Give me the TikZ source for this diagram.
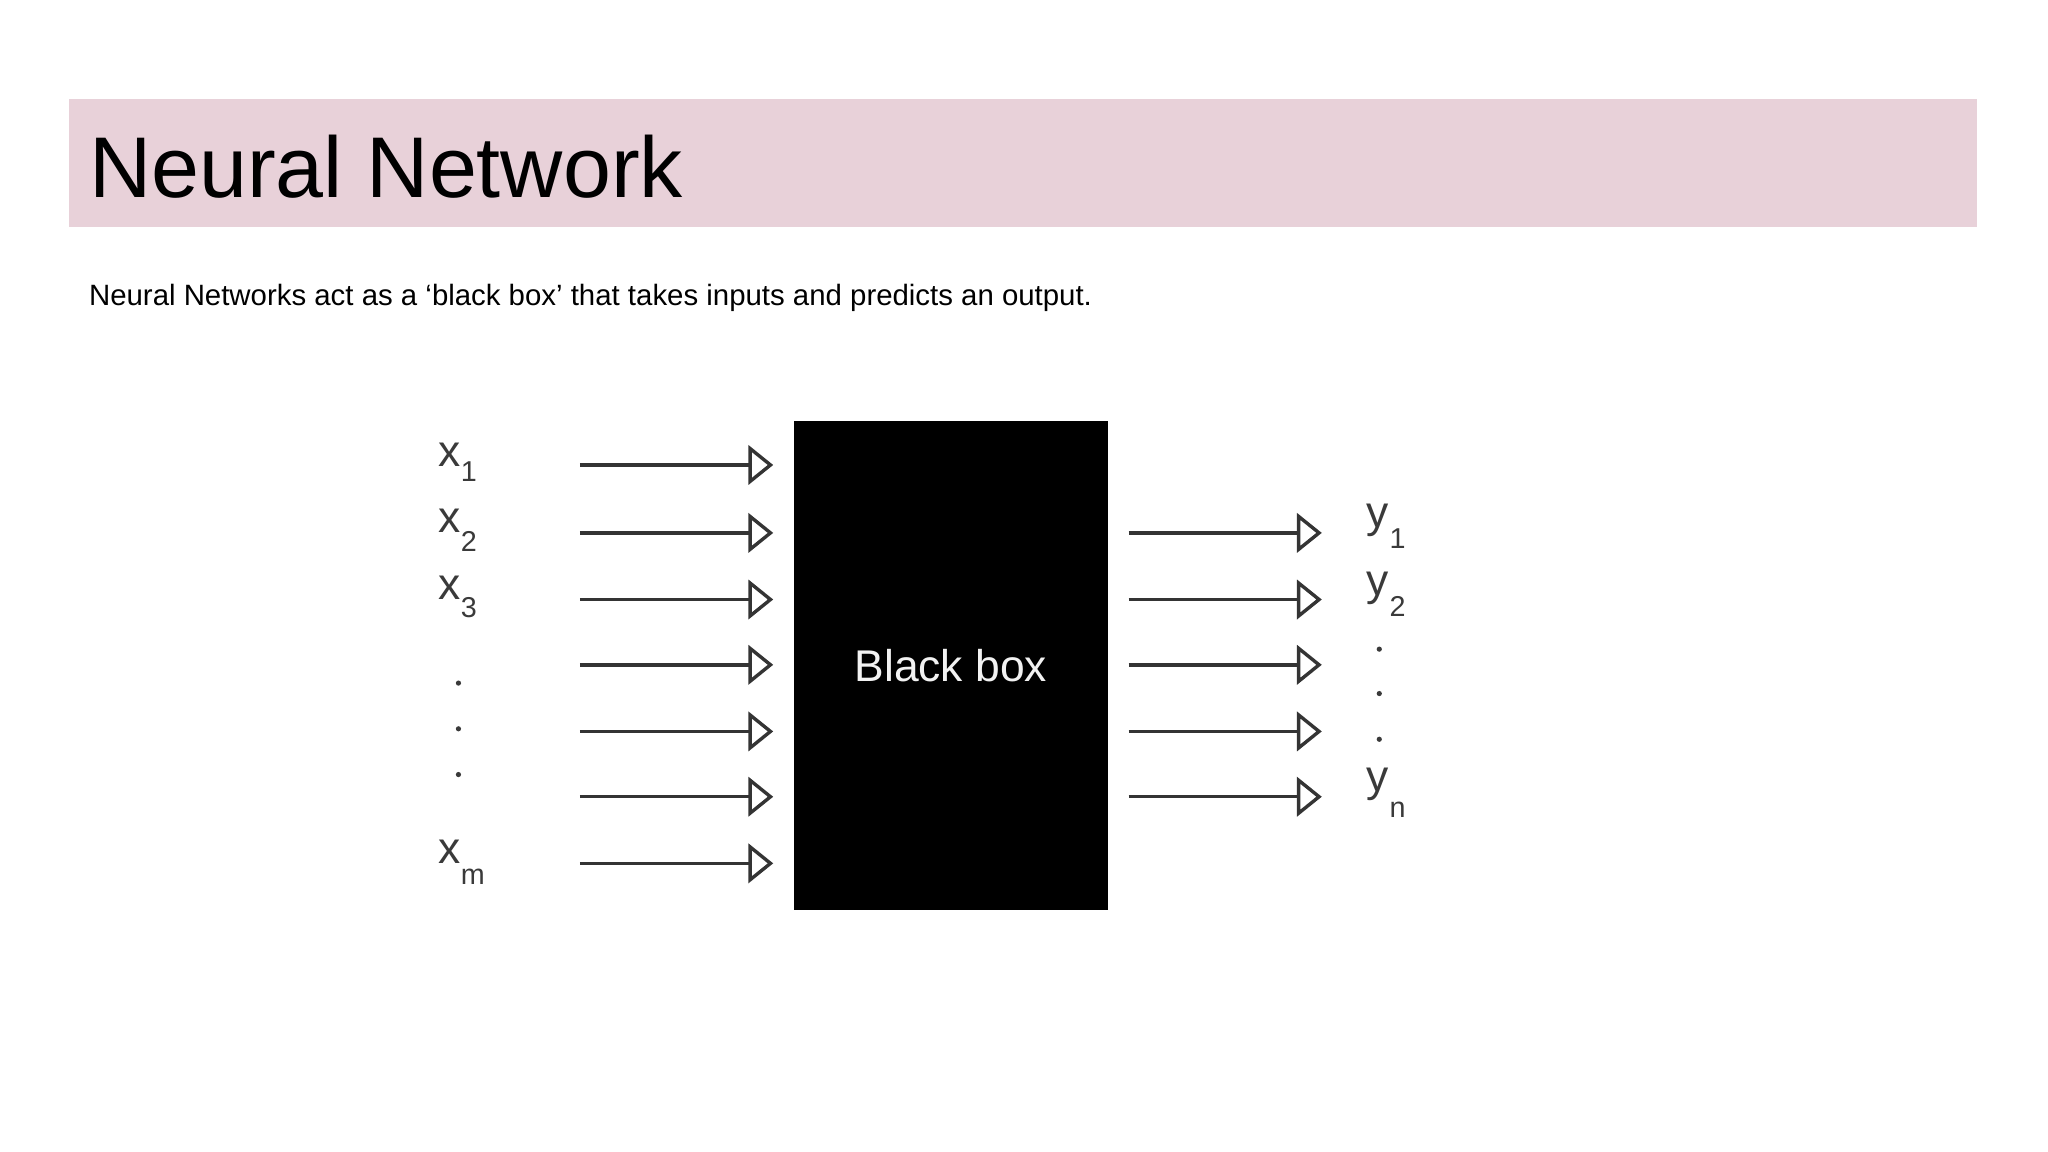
\documentclass[tikz,border=0pt]{standalone}
\usepackage{fontspec}
\setmainfont{Liberation Sans}
\usetikzlibrary{arrows.meta}
\definecolor{band}{HTML}{E8D1D9}
\definecolor{lab}{HTML}{3A3A3A}
\tikzset{
  arr/.style={line width=2.6pt, draw=lab!90!black, -{Triangle[open, length=19pt, width=30pt, line width=2.6pt]}},
  lbl/.style={text=lab, font=\fontsize{34}{34}\selectfont, inner sep=0pt, anchor=base},
  sub/.style={text=lab, font=\fontsize{22}{22}\selectfont, inner sep=0pt, anchor=base west},
  dot/.style={fill=lab, circle, inner sep=0pt, minimum size=4pt}
}
\begin{document}
\begin{tikzpicture}[x=1pt,y=-1pt]
\useasboundingbox (0,0) rectangle (1568,882);
\fill[band] (53,76) rectangle (1514,174);
\node[anchor=base west, inner sep=0pt, font=\fontsize{66}{66}\selectfont] (title) at (68,151) {Neural Network};
\node[anchor=base west, inner sep=0pt, font=\fontsize{22.5}{22.5}\selectfont] (sub) at (68,234) {Neural Networks act as a ‘black box’ that takes inputs and predicts an output.};
\node[fill=black, minimum width=240pt, minimum height=375pt, inner sep=0pt, text=white!90!gray, font=\fontsize{34}{34}\selectfont] (bb) at (728,509.5) {Black box};
\foreach \i/\y in {1/356,2/408,3/459,4/509,5/560,6/610,7/661}{
  \coordinate (is\i) at (444,\y); \coordinate (ie\i) at (592,\y);
  \draw[arr] (is\i) -- (ie\i);
}
\foreach \i/\y in {1/408,2/459,3/509,4/560,5/610}{
  \coordinate (os\i) at (864,\y); \coordinate (oe\i) at (1012,\y);
  \draw[arr] (os\i) -- (oe\i);
}
\node[lbl] (x1) at (344,357) {x}; \node[sub] (x1s) at (x1.base east) [yshift=-12pt] {1};
\node[lbl] (x2) at (344,408) {x}; \node[sub] (x2s) at (x2.base east) [yshift=-14pt] {2};
\node[lbl] (x3) at (344,459) {x}; \node[sub] (x3s) at (x3.base east) [yshift=-14pt] {3};
\node[dot] (d1) at (351,523) {}; \node[dot] (d2) at (351,558) {}; \node[dot] (d3) at (351,593) {};
\node[lbl] (xm) at (344,661) {x}; \node[sub] (xms) at (xm.base east) [yshift=-16pt] {m};
\node[lbl] (y1) at (1055,404) {y}; \node[sub] (y1s) at (y1.base east) [yshift=-16pt] {1};
\node[lbl] (y2) at (1055,456) {y}; \node[sub] (y2s) at (y2.base east) [yshift=-16pt] {2};
\node[dot] (e1) at (1056,497) {}; \node[dot] (e2) at (1056,531) {}; \node[dot] (e3) at (1056,566) {};
\node[lbl] (yn) at (1055,606) {y}; \node[sub] (yns) at (yn.base east) [yshift=-20pt] {n};
\end{tikzpicture}
\end{document}
